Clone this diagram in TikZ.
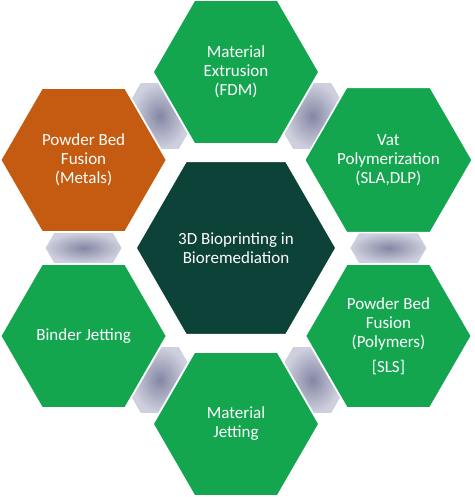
\documentclass[tikz,border=0pt]{standalone}
\usepackage{fontspec}
\setmainfont{Carlito}
\usetikzlibrary{shapes.geometric,calc,backgrounds}

\definecolor{hexgreen}{RGB}{19,166,79}
\definecolor{hexorange}{RGB}{197,90,17}
\definecolor{hexteal}{RGB}{13,66,57}
\definecolor{linkdark}{RGB}{132,135,163}
\definecolor{linklight}{RGB}{206,208,222}

\tikzset{
	hexa/.style={regular polygon, regular polygon sides=6, minimum size=166pt,
		inner sep=0pt, outer sep=0pt, fill=hexgreen, draw=white, line width=1.5pt,
		text=white, align=center, font=\fontsize{17}{19}\selectfont},
	hub/.style={hexa, minimum size=200pt, fill=hexteal},
	link/.style={inner color=linkdark, outer color=linklight}
}

\begin{document}
\begin{tikzpicture}[x=1pt,y=1pt]
	
	\useasboundingbox (-236,-249) rectangle (238,248);
	
	% The hub
	\node[hub] (hub) at (0,0) {3D Bioprinting in\\Bioremediation};
	
	% The six processes
	\node[hexa] (extrusion) at (90:176) {Material\\Extrusion\\(FDM)};
	\node[hexa] (vat) at (30:176) {Vat\\Polymerization\\(SLA,DLP)};
	\node[hexa] (sls) at (-30:176) {Powder Bed\\Fusion\\(Polymers)\\[6pt]{[SLS]}};
	\node[hexa] (jetting) at (-90:176) {Material\\Jetting};
	\node[hexa] (binder) at (-150:176) {Binder Jetting};
	\node[hexa, fill=hexorange] (metals) at (150:176) {Powder Bed\\Fusion\\(Metals)};
	
	% The grey links between neighbours
	\begin{scope}[on background layer]
		\foreach \p/\q/\a in {vat/sls/0, extrusion/vat/60, metals/extrusion/120,
			binder/metals/180, jetting/binder/240, sls/jetting/300}
		{
			\shade[link, shift={($(\p)!0.5!(\q)$)}, rotate=\a]
				(-38,0) -- (-29.3,15) -- (29.3,15) -- (38,0) -- (29.3,-15) -- (-29.3,-15) -- cycle;
		}
	\end{scope}
	
\end{tikzpicture}
\end{document}
